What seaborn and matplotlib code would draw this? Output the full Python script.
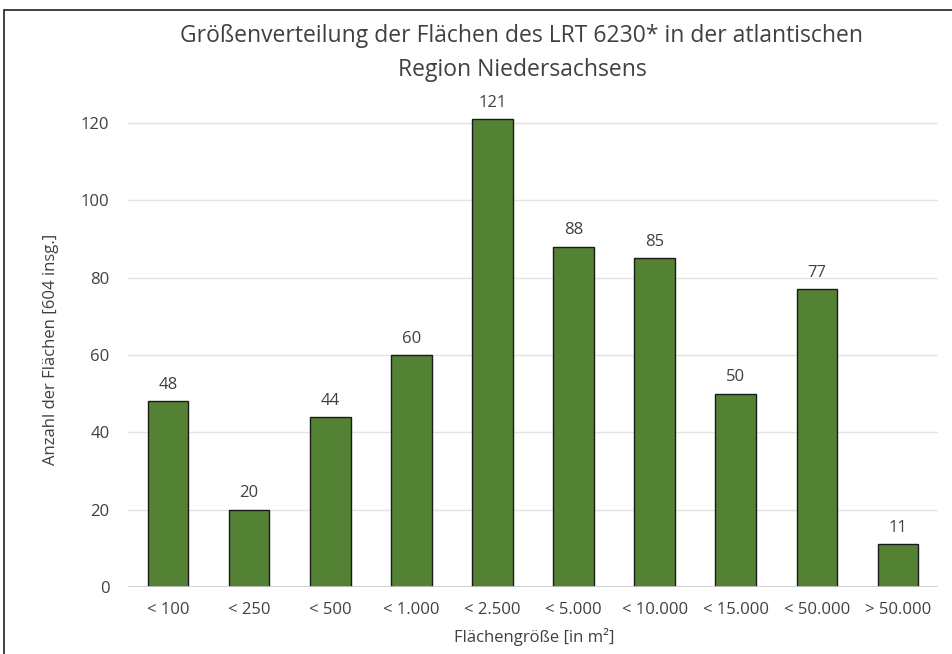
import matplotlib
matplotlib.use("Agg")
import matplotlib.pyplot as plt
import seaborn as sns
import pandas as pd
from matplotlib.lines import Line2D

categories = ["< 100", "< 250", "< 500", "< 1.000", "< 2.500", "< 5.000",
              "< 10.000", "< 15.000", "< 50.000", "> 50.000"]
counts = [48, 20, 44, 60, 121, 88, 85, 50, 77, 11]
yticks = [0, 20, 40, 60, 80, 100, 120]

title_lines = ["Größenverteilung der Flächen des LRT 6230* in der atlantischen",
               "Region Niedersachsens"]
xlabel = "Flächengröße [in m²]"
ylabel = "Anzahl der Flächen [604 insg.]"

sns.set_theme(style="white")
plt.rcParams["font.family"] = ["Open Sans", "DejaVu Sans"]

txt = "#404040"
df = pd.DataFrame({"cat": categories, "n": counts})

fig = plt.figure(figsize=(9.52, 6.54), dpi=100)
ax = fig.add_axes([127.5 / 952, 67 / 654, 811 / 952, (587 - 107.5) / 654])

sns.barplot(data=df, x="cat", y="n", ax=ax, color="#548235", saturation=1,
            width=0.5, edgecolor="#1a1a1a", linewidth=1.0, zorder=3)

ax.set_ylim(0, 124)
ax.set_xlim(-0.5, len(categories) - 0.5)
ax.set_yticks(yticks)
ax.set_yticklabels([str(t) for t in yticks])
for t in yticks[1:]:
    ax.axhline(t, color="#e3e3e3", lw=1.0, zorder=1)
ax.axhline(0, color="#c8c8c8", lw=1.2, zorder=4)

for s in ax.spines.values():
    s.set_visible(False)
ax.tick_params(axis="both", length=0, labelsize=12, colors=txt)
ax.tick_params(axis="x", pad=11)
ax.tick_params(axis="y", pad=13)

for c in ax.containers:
    ax.bar_label(c, labels=[str(v) for v in counts], padding=6, fontsize=12, color=txt)

ax.set_xlabel("")
ax.set_ylabel("")
fig.text(534 / 952, 1 - 637 / 654, xlabel, ha="center", va="center", fontsize=12, color=txt)
fig.text(51 / 952, 1 - 349 / 654, ylabel, ha="center", va="center", rotation=90,
         fontsize=12, color=txt)
fig.text(522 / 952, 1 - 36 / 654, title_lines[0], ha="center", va="center", fontsize=16.5,
         color=txt)
fig.text(522 / 952, 1 - 70 / 654, title_lines[1], ha="center", va="center", fontsize=16.5,
         color=txt)

# chart frame (left and top edges visible)
fig.add_artist(Line2D([3.5 / 952, 3.5 / 952], [0, 1 - 10 / 654], color="#333333", lw=1.3,
                      transform=fig.transFigure))
fig.add_artist(Line2D([3.5 / 952, 1], [1 - 10 / 654, 1 - 10 / 654], color="#333333", lw=1.3,
                      transform=fig.transFigure))

fig.savefig("out.png", dpi=100, facecolor="white")
